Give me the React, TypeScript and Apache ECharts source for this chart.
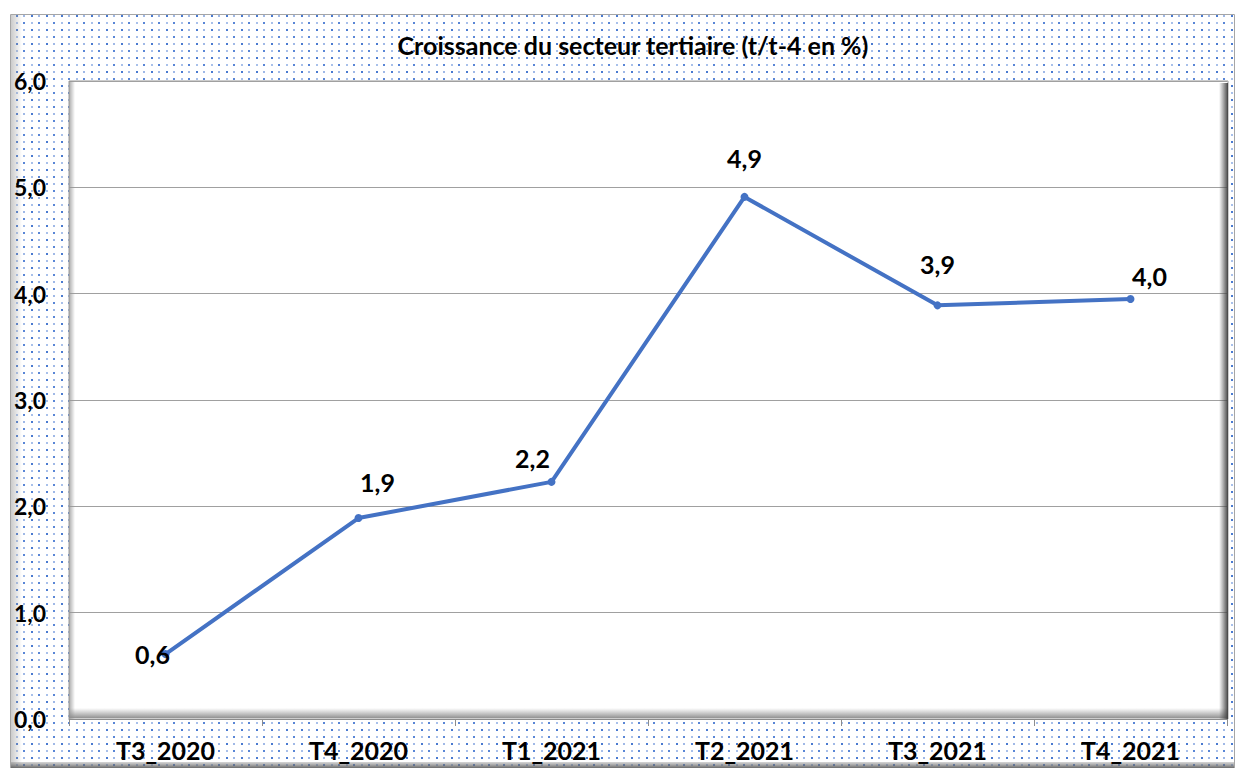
import React, { useEffect, useRef } from "react";
import * as echarts from "echarts";

const titleText = "Croissance du secteur tertiaire (t/t-4 en %)";
const categories = ["T3_2020", "T4_2020", "T1_2021", "T2_2021", "T3_2021", "T4_2021"];
const values = [0.61, 1.89, 2.23, 4.91, 3.89, 3.95];
const yTicks = [0, 1, 2, 3, 4, 5, 6];
// label offsets (style only)
const labelOffsets: [number, number][] = [
  [-13, 0],
  [19, -36],
  [-19, -24],
  [0, -39],
  [0, -41],
  [19, -23],
];

const fmt = (v: number) => (Math.round(v * 10) / 10).toFixed(1).replace(".", ",");

function makePattern(): string {
  const c = document.createElement("canvas");
  c.width = 15;
  c.height = 14;
  const ctx = c.getContext("2d")!;
  ctx.fillStyle = "#ffffff";
  ctx.fillRect(0, 0, 15, 14);
  const dots: [number, number, string, number][] = [
    [1, 1, "#4a7ad0", 2],
    [8, 1, "#9fb8e6", 2],
    [1, 8, "#a8c0ea", 2],
    [8, 8, "#5a86d6", 2],
  ];
  dots.forEach(([x, y, col, s]) => {
    ctx.fillStyle = col;
    ctx.fillRect(x, y, s, s);
  });
  return c.toDataURL();
}

export default function App() {
  const ref = useRef<HTMLDivElement>(null);
  useEffect(() => {
    if (!ref.current) return;
    const chart = echarts.init(ref.current, null, { renderer: "svg" });
    const pattern = makePattern();
    const gl = 69, gt = 81, gr = 1227, gb = 719;
    const font = "Lato, 'Open Sans', sans-serif";
    chart.setOption({
      animation: false,
      backgroundColor: "#ffffff",
      title: {
        text: titleText,
        left: 628,
        top: 27,
        textAlign: "center",
        textStyle: { fontFamily: font, fontWeight: "bold", fontSize: 25, color: "#000" },
      },
      graphic: [
        {
          type: "rect",
          z: -20,
          silent: true,
          shape: { x: 10.5, y: 14.5, width: 1224, height: 760 },
          style: { fill: { image: pattern, repeat: "repeat" } as any, stroke: "#a6a6a6", lineWidth: 1 },
        },
        {
          type: "rect",
          z: -19,
          silent: true,
          shape: { x: 11, y: 15, width: 11, height: 753 },
          style: {
            fill: new echarts.graphic.LinearGradient(0, 0, 1, 0, [
              { offset: 0, color: "rgba(160,160,160,0.55)" },
              { offset: 1, color: "rgba(160,160,160,0)" },
            ]),
          },
        },
        {
          type: "rect",
          z: -19,
          silent: true,
          shape: { x: 11, y: 762, width: 1223, height: 6 },
          style: {
            fill: new echarts.graphic.LinearGradient(0, 0, 0, 1, [
              { offset: 0, color: "rgba(120,120,120,0.3)" },
              { offset: 1, color: "rgba(90,90,90,0.9)" },
            ]),
          },
        },
        {
          type: "rect",
          z: -15,
          silent: true,
          shape: { x: gl, y: gt, width: gr - gl + 1, height: gb - gt },
          style: { fill: "#ffffff", stroke: "#9a9a9a", lineWidth: 1 },
        },
        {
          type: "rect",
          z: 1,
          silent: true,
          shape: { x: gl, y: gt, width: 6, height: gb - gt },
          style: {
            fill: new echarts.graphic.LinearGradient(0, 0, 1, 0, [
              { offset: 0, color: "rgba(150,150,150,0.8)" },
              { offset: 1, color: "rgba(150,150,150,0)" },
            ]),
          },
        },
        {
          type: "rect",
          z: 1,
          silent: true,
          shape: { x: gl, y: gb - 11, width: gr - gl + 1, height: 10 },
          style: {
            fill: new echarts.graphic.LinearGradient(0, 0, 0, 1, [
              { offset: 0, color: "rgba(150,150,150,0)" },
              { offset: 1, color: "rgba(140,140,140,0.95)" },
            ]),
          },
        },
        {
          type: "rect",
          z: 1,
          silent: true,
          shape: { x: gr - 8, y: gt + 2, width: 9, height: gb - gt - 2 },
          style: {
            fill: new echarts.graphic.LinearGradient(0, 0, 1, 0, [
              { offset: 0, color: "rgba(80,80,80,0)" },
              { offset: 1, color: "rgba(60,60,60,0.95)" },
            ]),
          },
        },
      ],
      grid: { left: gl, top: gt, right: 1236 - gr, bottom: 768 - gb, containLabel: false },
      xAxis: {
        type: "category",
        data: categories,
        boundaryGap: true,
        axisLine: { show: true, lineStyle: { color: "#8c8c8c", width: 1 } },
        axisTick: { show: true, length: 7, lineStyle: { color: "#8c8c8c" } },
        axisLabel: {
          margin: 18,
          fontFamily: font,
          fontWeight: "bold",
          fontSize: 25,
          color: "#000",
        },
        splitLine: { show: false },
      },
      yAxis: {
        type: "value",
        min: yTicks[0],
        max: yTicks[yTicks.length - 1],
        interval: 1,
        axisLine: { show: false },
        axisTick: { show: false },
        axisLabel: {
          align: "left",
          margin: 55,
          fontFamily: font,
          fontWeight: "bold",
          fontSize: 23,
          color: "#000",
          formatter: (v: number) => fmt(v),
        },
        splitLine: { show: true, lineStyle: { color: "#a0a0a0", width: 1 } },
      },
      series: [
        {
          type: "line",
          z: 3,
          data: values.map((v, i) => ({
            value: v,
            label: {
              show: true,
              position: "inside",
              offset: labelOffsets[i],
              formatter: () => fmt(v),
              fontFamily: font,
              fontWeight: "bold",
              fontSize: 25,
              color: "#000",
            },
          })),
          symbol: "circle",
          symbolSize: 8,
          lineStyle: { color: "#4472c4", width: 4 },
          itemStyle: { color: "#4472c4" },
        },
      ],
    });
    return () => chart.dispose();
  }, []);
  return (
    <div
      ref={ref}
      style={{ position: "fixed", left: 0, top: 0, width: 1236, height: 768 }}
    />
  );
}
